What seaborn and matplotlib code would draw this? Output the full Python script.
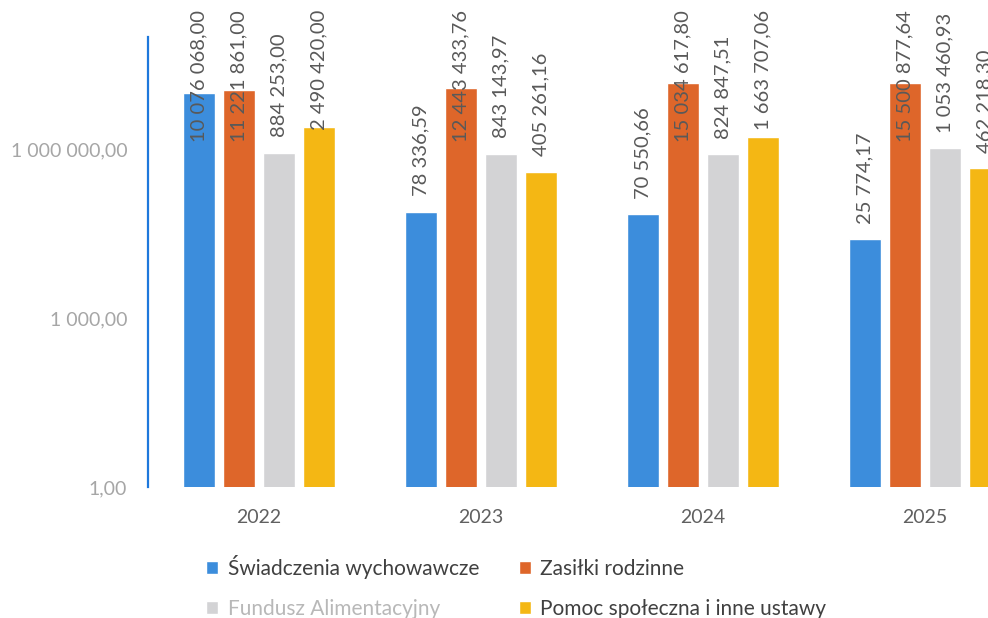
import matplotlib
matplotlib.use('Agg')
import matplotlib.pyplot as plt
from matplotlib.ticker import FixedLocator, FuncFormatter, NullLocator
import pandas as pd
import seaborn as sns

years = ['2022', '2023', '2024', '2025']
series = ['Świadczenia wychowawcze', 'Zasiłki rodzinne',
          'Fundusz Alimentacyjny', 'Pomoc społeczna i inne ustawy']
swiadczenia = [10076068.00, 78336.59, 70550.66, 25774.17]
zasilki = [11221861.00, 12443433.76, 15034617.80, 15500877.64]
fundusz = [884253.00, 843143.97, 824847.51, 1053460.93]
pomoc = [2490420.00, 405261.16, 1663707.06, 462218.30]
legend_labels = ['Świadczenia wychowawcze', 'Zasiłki rodzinne',
                 'Fundusz Alimentacyjny', 'Pomoc społeczna i inne ustawy']
y_ticks = [1, 1000, 1000000]

colors = ['#3C8DDC', '#DE662A', '#D3D3D5', '#F4B714']


def pl_number(v, pos=None):
    return '{:,.2f}'.format(v).replace(',', ' ').replace('.', ',')


rows = []
for name, vals in zip(series, [swiadczenia, zasilki, fundusz, pomoc]):
    for year, v in zip(years, vals):
        rows.append({'Rok': year, 'Seria': name, 'Kwota': v})
df = pd.DataFrame(rows)

sns.set_style('white')
plt.rcParams['font.family'] = ['Lato', 'DejaVu Sans']

dpi = 100
fig = plt.figure(figsize=(9.88, 6.18), dpi=dpi)
ax = fig.add_axes([148 / 988, 131 / 618, 888 / 988, 450 / 618])

sns.barplot(data=df, x='Rok', y='Kwota', hue='Seria', hue_order=series,
            palette=colors, width=0.72, gap=0.2, saturation=1,
            legend=False, ax=ax)
ax.set_yscale('log')

ax.set_xlim(-0.5, 3.5)
ax.set_ylim(1, 1e8)
ax.yaxis.set_major_locator(FixedLocator(y_ticks))
ax.yaxis.set_minor_locator(NullLocator())
ax.yaxis.set_major_formatter(FuncFormatter(pl_number))
ax.set_xlabel('')
ax.set_ylabel('')
ax.tick_params(axis='y', length=0, pad=15, labelsize=14, labelcolor='#A6A6A6')
ax.tick_params(axis='x', length=0, pad=16, labelsize=14, labelcolor='#606060')

for side in ['top', 'right', 'bottom']:
    ax.spines[side].set_visible(False)
ax.spines['left'].set_color('#1E78DC')
ax.spines['left'].set_linewidth(1.6)

# data labels, rotated, pushed down when they would run off the top
texts = []
for container in ax.containers:
    for bar in container:
        h = bar.get_height()
        xc = bar.get_x() + bar.get_width() / 2
        t = ax.annotate(pl_number(h), (xc, h), xytext=(0, 11),
                        textcoords='offset points', rotation=90,
                        ha='center', va='bottom', fontsize=14.5,
                        color='#595959')
        texts.append(t)

fig.canvas.draw()
renderer = fig.canvas.get_renderer()
limit = 618 - 10
for t in texts:
    bb = t.get_window_extent(renderer)
    if bb.y1 > limit:
        shift = (bb.y1 - limit) * 72 / dpi
        t.xyann = (0, 11 - shift)

handles = list(ax.containers)
order = [0, 2, 1, 3]
leg = fig.legend([handles[i] for i in order], [legend_labels[i] for i in order],
                 ncol=2, loc='upper left', bbox_to_anchor=(187 / 988, 1 - 536 / 618),
                 frameon=False, fontsize=15, handlelength=0.6, handleheight=0.6,
                 handletextpad=0.45, columnspacing=1.9, labelspacing=0.95)
for txt, i in zip(leg.get_texts(), order):
    txt.set_color('#B8B8B8' if i == 2 else '#404040')

fig.savefig('out.png', dpi=dpi)
